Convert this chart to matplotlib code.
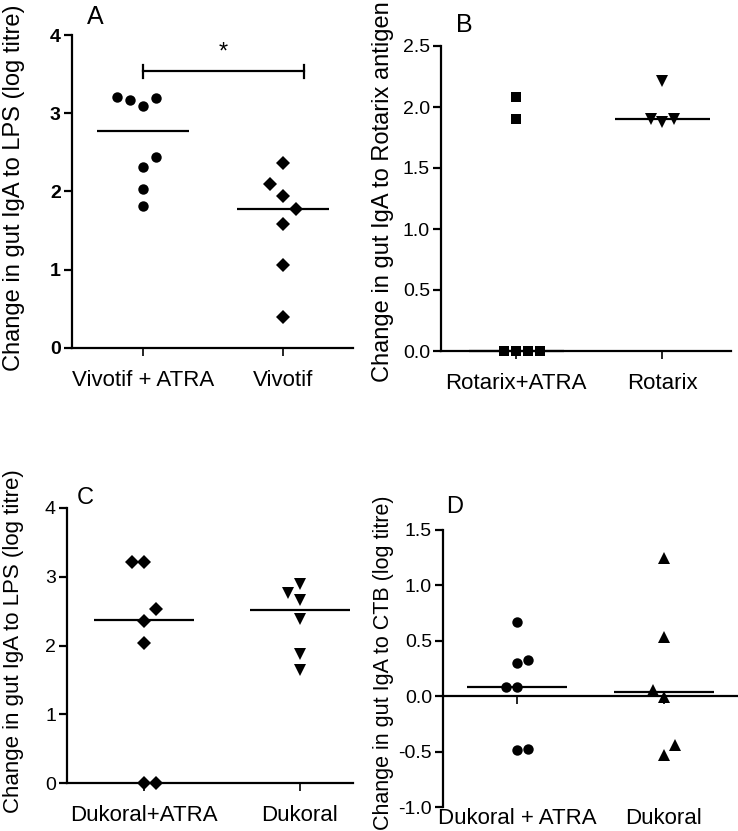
import matplotlib
matplotlib.use("Agg")
import matplotlib.pyplot as plt
from matplotlib.ticker import FormatStrFormatter

plt.rcParams['font.family'] = ['Liberation Sans', 'DejaVu Sans']

W, H = 738, 831

# Panel A: gut IgA to LPS, Vivotif
A_groups = ['Vivotif + ATRA', 'Vivotif']
A_atra = [3.21, 3.17, 3.09, 3.20, 2.44, 2.31, 2.03, 1.82]
A_atra_dx = [-2, -1, 0, 1, 1, 0, 0, 0]
A_viv = [2.37, 2.09, 1.94, 1.77, 1.59, 1.06, 0.40]
A_viv_dx = [0, -1, 0, 1, 0, 0, 0]
A_medians = [2.77, 1.77]
A_yticks = [0, 1, 2, 3, 4]

# Panel B: gut IgA to Rotarix antigen
B_groups = ['Rotarix+ATRA', 'Rotarix']
B_atra = [2.08, 1.90, 0.0, 0.0, 0.0, 0.0]
B_atra_dx = [0, 0, -1, 0, 1, 2]
B_rot = [2.21, 1.90, 1.88, 1.90]
B_rot_dx = [0, -1, 0, 1]
B_medians = [0.0, 1.90]
B_yticks = [0.0, 0.5, 1.0, 1.5, 2.0, 2.5]

# Panel C: gut IgA to LPS, Dukoral
C_groups = ['Dukoral+ATRA', 'Dukoral']
C_atra = [3.22, 3.22, 2.53, 2.35, 2.03, 0.0, 0.0]
C_atra_dx = [-1, 0, 1, 0, 0, 0, 1]
C_duk = [2.90, 2.77, 2.66, 2.38, 1.87, 1.64]
C_duk_dx = [0, -1, 0, 0, 0, 0]
C_medians = [2.37, 2.52]
C_yticks = [0, 1, 2, 3, 4]

# Panel D: gut IgA to CTB
D_groups = ['Dukoral + ATRA', 'Dukoral']
D_atra = [0.67, 0.30, 0.33, 0.08, 0.08, -0.49, -0.48]
D_atra_dx = [0, 0, 1, -1, 0, 0, 1]
D_duk = [1.25, 0.53, 0.06, -0.01, -0.44, -0.53]
D_duk_dx = [0, 0, -1, 0, 1, 0]
D_medians = [0.085, 0.04]
D_yticks = [-1.0, -0.5, 0.0, 0.5, 1.0, 1.5]


def add_ax(fig, left, top, right, bottom):
    return fig.add_axes([left / W, 1 - bottom / H, (right - left) / W, (bottom - top) / H])


def scatter_group(ax, x0, vals, dx, step, marker, ms):
    xs = [x0 + d * step for d in dx]
    ax.plot(xs, vals, linestyle='none', marker=marker, ms=ms, color='black',
            markeredgewidth=0, clip_on=False, zorder=4)


def medians(ax, meds, half=0.33):
    for i, m in enumerate(meds):
        ax.plot([i + 1 - half, i + 1 + half], [m, m], color='black', lw=1.6,
                solid_capstyle='butt', zorder=3, clip_on=False)


def style(ax, xlim, ylim, yticks, fmt, fs=14, bold=False):
    ax.set_xlim(*xlim)
    ax.set_ylim(*ylim)
    for s in ['top', 'right']:
        ax.spines[s].set_visible(False)
    for s in ['left', 'bottom']:
        ax.spines[s].set_linewidth(1.6)
    ax.set_yticks(yticks)
    ax.yaxis.set_major_formatter(FormatStrFormatter(fmt))
    ax.tick_params(axis='y', direction='out', length=6, width=1.6, pad=2, labelsize=fs)
    ax.tick_params(axis='x', direction='out', length=6, width=1.2, pad=10)
    if bold:
        for t in ax.yaxis.get_major_ticks():
            t.label1.set_fontweight('bold')


fig = plt.figure(figsize=(W / 100, H / 100), dpi=100)

# ---- A ----
axA = add_ax(fig, 72, 35, 353, 348)
scatter_group(axA, 1, A_atra, A_atra_dx, 0.093, 'o', 7.5)
scatter_group(axA, 2, A_viv, A_viv_dx, 0.093, 'D', 7)
medians(axA, A_medians)
axA.set_xticks([1, 2])
axA.set_xticklabels(A_groups, fontsize=16)
style(axA, (0.49, 2.5), (0, 4), A_yticks, '%d', fs=14, bold=True)
axA.plot([1, 2.15], [3.54, 3.54], color='black', lw=1.6, clip_on=False)
axA.plot([1, 1], [3.45, 3.62], color='black', lw=1.6, clip_on=False)
axA.plot([2.15, 2.15], [3.45, 3.62], color='black', lw=1.6, clip_on=False)
axA.text(1.57, 3.78, '*', ha='center', va='center', fontsize=17)

# ---- B ----
axB = add_ax(fig, 441, 46, 731, 351)
scatter_group(axB, 1, B_atra, B_atra_dx, 0.08, 's', 6.5)
scatter_group(axB, 2, B_rot, B_rot_dx, 0.08, 'v', 8)
medians(axB, B_medians, 0.325)
axB.set_xticks([1, 2])
axB.set_xticklabels(B_groups, fontsize=16)
style(axB, (0.486, 2.47), (0, 2.5), B_yticks, '%.1f', fs=14)

# ---- C ----
axC = add_ax(fig, 67, 508, 353, 783)
scatter_group(axC, 1, C_atra, C_atra_dx, 0.077, 'D', 7)
scatter_group(axC, 2, C_duk, C_duk_dx, 0.077, 'v', 8)
medians(axC, C_medians, 0.32)
axC.set_xticks([1, 2])
axC.set_xticklabels(C_groups, fontsize=16)
style(axC, (0.506, 2.34), (0, 4), C_yticks, '%d', fs=14)

# ---- D ----
axD = add_ax(fig, 443, 530, 737, 807)
scatter_group(axD, 1, D_atra, D_atra_dx, 0.075, 'o', 7.5)
scatter_group(axD, 2, D_duk, D_duk_dx, 0.075, '^', 8)
medians(axD, D_medians, 0.34)
style(axD, (0.497, 2.5), (-1.0, 1.5), D_yticks, '%.1f', fs=14)
axD.spines['bottom'].set_position(('data', 0))
axD.set_xticks([1, 2])
axD.tick_params(axis='x', labelbottom=False)
for i, g in enumerate(D_groups):
    axD.text(i + 1, -1.1, g, ha='center', va='center', fontsize=16, clip_on=False)

# panel letters
for lab, (x, y), fs in [('A', (95, 17), 18), ('B', (464, 25), 18),
                        ('C', (85, 498), 17), ('D', (455, 507), 17)]:
    fig.text(x / W, 1 - y / H, lab, ha='center', va='center', fontsize=fs)

# y labels
ylabels = [('Change in gut IgA to LPS (log titre)', (14, 188), 17),
           ('Change in gut IgA to Rotarix antigen', (383, 192), 17),
           ('Change in gut IgA to LPS (log titre)', (14, 641), 16),
           ('Change in gut IgA to CTB (log titre)', (383, 663), 15.5)]
for txt, (x, y), fs in ylabels:
    fig.text(x / W, 1 - y / H, txt, ha='center', va='center', rotation=90, fontsize=fs)

fig.savefig('out.png', dpi=100)
